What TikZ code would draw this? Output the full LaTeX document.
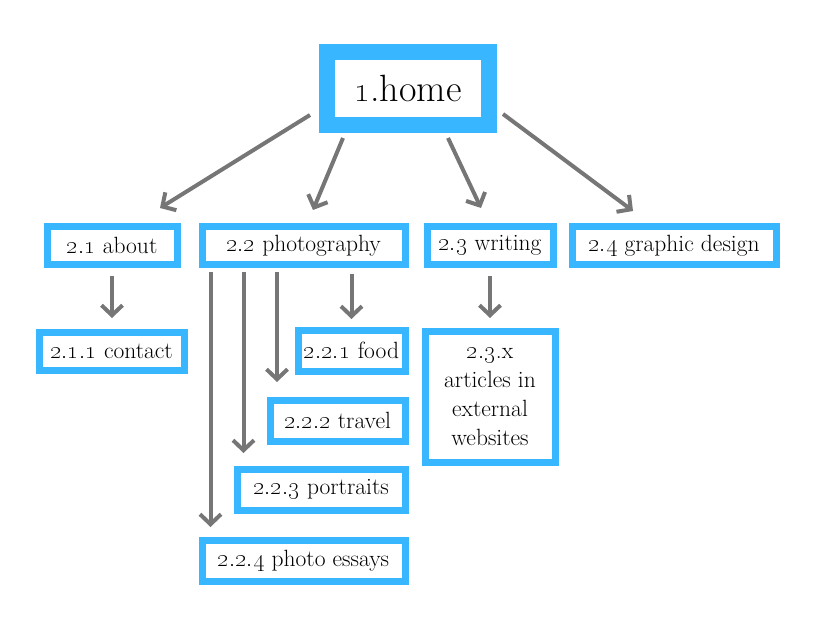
\documentclass[tikz,border=0pt]{standalone}
\usetikzlibrary{arrows.meta,calc}
\definecolor{skyblue}{HTML}{38B6FF}
\definecolor{linkgray}{HTML}{767676}
\newcommand{\osn}[1]{\oldstylenums{#1}}

\begin{document}
\begin{tikzpicture}[x=1pt,y=-1pt,
  every node/.style={font=\fontsize{23.5}{29}\selectfont},
  page/.style={draw=skyblue, line width=7pt, fill=white, inner sep=0pt, outer sep=0pt, align=center},
  link/.style={-{Straight Barb[length=10pt,width=21pt]}, line width=4pt, linkgray}]
  \useasboundingbox (0,0) rectangle (813,644);

  % Home
  \node[page, line width=16pt, minimum width=162pt, minimum height=73pt,
        font=\fontsize{38}{44}\selectfont] (home) at (408,88.5) {\osn{1}.home};

  % Second level
  \node[page, minimum width=130pt, minimum height=37pt] (about) at (112,245.5) {\osn{2.1} about};
  \node[page, minimum width=203pt, minimum height=37pt] (photo) at (303.5,245.5) {\osn{2.2} photography};
  \node[page, minimum width=126pt, minimum height=37pt] (writing) at (490,245.5) {\osn{2.3} writing};
  \node[page, minimum width=204pt, minimum height=37pt] (graphic) at (674,245.5) {\osn{2.4} graphic design};

  % Third level
  \node[page, minimum width=145pt, minimum height=38pt] (contact) at (111.5,351) {\osn{2.1.1} contact};
  \node[page, minimum width=107pt, minimum height=41pt] (food) at (351.5,350.5) {\osn{2.2.1} food};
  \node[page, minimum width=135pt, minimum height=41pt] (travel) at (337.5,420.5) {\osn{2.2.2} travel};
  \node[page, minimum width=168pt, minimum height=41pt] (portraits) at (321,489.5) {\osn{2.2.3} portraits};
  \node[page, minimum width=203pt, minimum height=41pt] (essays) at (303.5,560.5) {\osn{2.2.4} photo essays};
  \node[page, minimum width=130pt, minimum height=131pt] (articles) at (490,396.5)
        {\osn{2.3}.x\\articles in\\external\\websites};

  % Links from home
  \draw[link] ($(home.south west)+(-17,-10)$) -- ($(about.north)+(48,-19)$);
  \draw[link] ($(home.south west)+(16,13)$) -- ($(photo.north)+(9.5,-17)$);
  \draw[link] ($(home.south)+(40,13)$) -- ($(writing.north)+(-9,-19)$);
  \draw[link] ($(home.south east)+(14,-11)$) -- ($(graphic.north)+(-41,-16)$);

  % Links to third level
  \draw[link] ($(about.south)+(0,12)$) -- ($(contact.north -| about.south)+(0,-14)$);
  \draw[link] ($(writing.south)+(0,12)$) -- ($(articles.north)+(0,-13)$);
  \draw[link] ($(photo.south -| food.north)+(0,10)$) -- ($(food.north)+(0,-11)$);
  \draw[link] ($(photo.south -| travel.west)+(7,8)$) -- ($(travel.north west)+(7,-18)$);
  \draw[link] ($(photo.south -| portraits.west)+(6.5,8)$) -- ($(portraits.north west)+(6.5,-16)$);
  \draw[link] ($(photo.south -| essays.west)+(8.5,8)$) -- ($(essays.north west)+(8.5,-13)$);
\end{tikzpicture}
\end{document}
